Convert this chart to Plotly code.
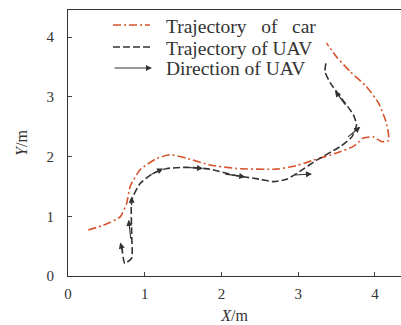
import plotly.graph_objects as go

# Car trajectory
car_x = [0.265, 0.46, 0.68, 0.765, 0.81, 0.94, 1.16, 1.33, 1.55, 1.85, 2.2, 2.72, 2.98, 3.2, 3.5, 3.72, 3.85, 3.98, 4.09, 4.18, 4.15, 4.05, 3.89, 3.68, 3.5, 3.37]
car_y = [0.77, 0.85, 0.99, 1.22, 1.5, 1.78, 1.97, 2.03, 1.97, 1.86, 1.80, 1.79, 1.85, 1.94, 2.06, 2.17, 2.31, 2.33, 2.25, 2.27, 2.56, 2.89, 3.17, 3.42, 3.67, 3.9]

# UAV trajectory
uav_x = [0.70, 0.74, 0.83, 0.83, 0.83, 0.94, 1.11, 1.29, 1.55, 1.85, 2.16, 2.50, 2.68, 2.85, 3.02, 3.24, 3.55, 3.70, 3.76, 3.72, 3.55, 3.42, 3.35, 3.36]
uav_y = [0.49, 0.21, 0.30, 0.72, 1.27, 1.55, 1.72, 1.80, 1.82, 1.79, 1.69, 1.62, 1.58, 1.62, 1.75, 1.94, 2.17, 2.33, 2.53, 2.70, 3.00, 3.23, 3.42, 3.56]

# Direction arrows of UAV (tail -> head)
arr_tail_x = [0.72, 0.82, 0.83, 1.07, 1.55, 2.03, 2.94, 3.63, 3.63]
arr_tail_y = [0.38, 0.60, 1.16, 1.69, 1.82, 1.71, 1.69, 2.31, 2.84]
arr_head_x = [0.68, 0.79, 0.83, 1.24, 1.76, 2.31, 3.18, 3.81, 3.48]
arr_head_y = [0.56, 0.94, 1.33, 1.80, 1.80, 1.66, 1.71, 2.50, 3.10]

legend_labels = ["Trajectory&nbsp;&nbsp; of&nbsp;&nbsp; car", "Trajectory of UAV", "Direction of UAV"]

CAR_COLOR = "#d4532b"
UAV_COLOR = "#333333"
FONT = "Liberation Serif"

fig = go.Figure()
fig.add_trace(go.Scatter(x=car_x, y=car_y, mode="lines",
                         line=dict(color=CAR_COLOR, width=1.6, dash="8px,3px,2px,3px", shape="spline", smoothing=0.5),
                         showlegend=False))
fig.add_trace(go.Scatter(x=uav_x, y=uav_y, mode="lines",
                         line=dict(color=UAV_COLOR, width=1.6, dash="7px,3px", shape="spline", smoothing=0.5),
                         showlegend=False))

for tx, ty, hx, hy in zip(arr_tail_x, arr_tail_y, arr_head_x, arr_head_y):
    fig.add_annotation(x=hx, y=hy, ax=tx, ay=ty, xref="x", yref="y", axref="x", ayref="y",
                       showarrow=True, arrowhead=2, arrowsize=1.1, arrowwidth=1.1,
                       arrowcolor=UAV_COLOR, text="")

# Manual legend (paper coordinates)
W, H = 401, 325
ml, mr, mt, mb = 68, 0, 10, 49
pw, ph = W - ml - mr, H - mt - mb

def px2paper(px, py):
    return (px - ml) / pw, (H - mb - py) / ph

line_rows = [25, 47, 68]
text_rows = [26, 48, 69]
x0p, _ = px2paper(113, 0)
x1p, _ = px2paper(150, 0)
txp, _ = px2paper(164, 0)
dashes = ["8px,3px,2px,3px", "7px,3px"]
colors = [CAR_COLOR, UAV_COLOR]
for i in range(2):
    _, yp = px2paper(0, line_rows[i])
    fig.add_shape(type="line", xref="paper", yref="paper", x0=x0p, x1=x1p, y0=yp, y1=yp,
                  line=dict(color=colors[i], width=1.6, dash=dashes[i]))
_, yp3 = px2paper(0, line_rows[2])
x3p, _ = px2paper(152, 0)
fig.add_annotation(xref="paper", yref="paper", axref="pixel", ayref="pixel",
                   x=x3p, y=yp3, ax=-39, ay=0, showarrow=True, arrowhead=2,
                   arrowsize=1.1, arrowwidth=1.1, arrowcolor=UAV_COLOR, text="")
for i, lab in enumerate(legend_labels):
    _, yp = px2paper(0, text_rows[i])
    fig.add_annotation(xref="paper", yref="paper", x=txp, y=yp, xanchor="left", yanchor="middle",
                       text=lab, showarrow=False, font=dict(family=FONT, size=19.5, color="#333"))

fig.update_layout(
    width=W, height=H,
    margin=dict(l=ml, r=mr, t=mt, b=mb, autoexpand=False),
    plot_bgcolor="white", paper_bgcolor="white",
    font=dict(family=FONT, size=15, color="#333"),
    showlegend=False,
)
fig.update_xaxes(range=[0, 4.34], tickvals=[0, 1, 2, 3, 4], ticks="inside", ticklen=4,
                 showline=True, linecolor="#333", linewidth=1, mirror=True, showgrid=False,
                 zeroline=False, ticklabelstandoff=4, automargin=False,
                 title=dict(text="<i>X</i>/m", font=dict(family=FONT, size=16, color="#333"), standoff=8))
fig.update_yaxes(range=[0, 4.455], tickvals=[0, 1, 2, 3, 4], ticks="inside", ticklen=4,
                 showline=True, linecolor="#333", linewidth=1, mirror=False, showgrid=False,
                 zeroline=False, ticklabelstandoff=10, automargin=False,
                 title=dict(text="<i>Y</i>/m", font=dict(family=FONT, size=16, color="#333"), standoff=14))

fig.write_html("out.html", config={"displayModeBar": False},
               post_script="document.body.style.margin='0';document.body.style.padding='0';")
